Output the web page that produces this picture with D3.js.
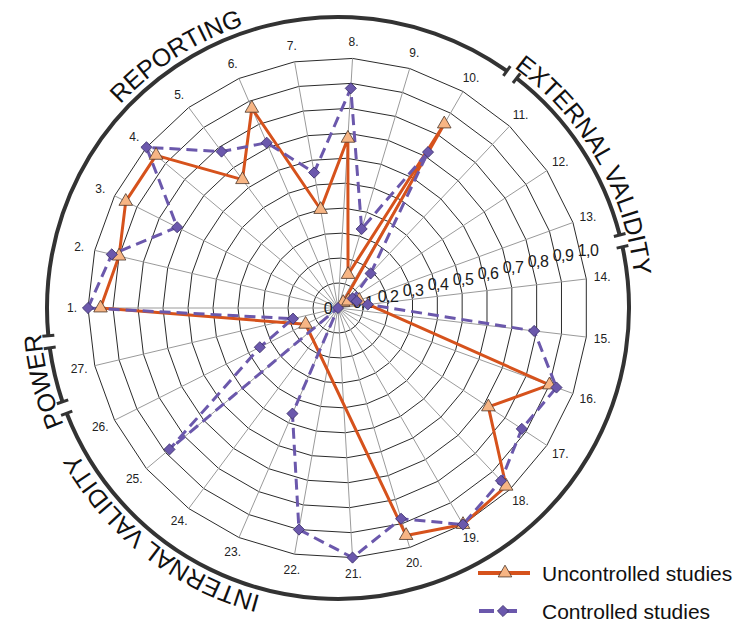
<!DOCTYPE html>
<html>
<head>
<meta charset="utf-8">
<script src="https://cdn.jsdelivr.net/npm/d3@7"></script>
<style>
  body { margin: 0; background: #fff; }
  svg { display: block; font-family: "Liberation Sans", Arial, sans-serif; }
</style>
</head>
<body>
<div id="chart"></div>
<script>
// Quality checklist scores: uncontrolled vs controlled studies (27 items)
const items = d3.range(1, 28).map(d => d + ".");
const uncontrolled = [0.95, 0.90, 0.95, 0.95, 0.64, 0.87, 0.40, 0.68, 0.14, 0.85,
                      0.03, 0.05, 0.09, null, null, 0.90, 0.72, 0.98, 1.00, 0.95,
                      null, null, null, null, null, 0.145, null];
const controlled = [1.00, 0.93, 0.72, 1.00, 0.78, 0.72, 0.55, 0.88, 0.33, 0.72,
                    0.19, 0.07, 0.08, 0.12, 0.79, 0.93, 0.88, 0.95, 1.00, 0.88,
                    1.00, 0.90, 0.46, 0.00, 0.88, 0.35, 0.185];
const ringTicks = d3.range(0, 11).map(d => d / 10);
const ringLabels = ["0", "0,1", "0,2", "0,3", "0,4", "0,5", "0,6", "0,7", "0,8", "0,9", "1,0"];

// sections of the checklist (item index ranges, 0-based)
const sectionNames = ["REPORTING", "EXTERNAL VALIDITY", "INTERNAL VALIDITY", "POWER"];
const sectionFirst = [0, 10, 13, 26];
const sectionLast = [9, 12, 25, 26];

const w = 745, h = 622;
const cx = 338, cy = 308;
const R = 250;          // radius of ring 1,0
const outerR = 291;     // section circle

const svg = d3.select("#chart").append("svg")
    .attr("width", w)
    .attr("height", h);

const r = d3.scaleLinear().domain([0, 1]).range([0, R]);
// angle 0 = pointing left, increasing clockwise
const ang = d3.scaleLinear().domain([0, items.length]).range([0, 2 * Math.PI]);
const pt = (rad, a) => [cx - rad * Math.cos(a), cy - rad * Math.sin(a)];

// grid rings (polygons)
const g = svg.append("g");
g.selectAll(".ring")
    .data(ringTicks.slice(1))
    .enter()
    .append("polygon")
    .attr("points", v => items.map((d, i) => pt(r(v), ang(i)).join(",")).join(" "))
    .attr("fill", "none")
    .attr("stroke", "#2b2b2b")
    .attr("stroke-width", 1);

// spokes
g.selectAll(".spoke")
    .data(items)
    .enter()
    .append("line")
    .attr("x1", cx).attr("y1", cy)
    .attr("x2", (d, i) => pt(r(1), ang(i))[0])
    .attr("y2", (d, i) => pt(r(1), ang(i))[1])
    .attr("stroke", "#9a9a9a")
    .attr("stroke-width", 1);

// item labels
g.selectAll(".item")
    .data(items)
    .enter()
    .append("text")
    .attr("x", (d, i) => pt(R + 16, ang(i))[0])
    .attr("y", (d, i) => pt(R + 16, ang(i))[1])
    .attr("text-anchor", "middle")
    .attr("dominant-baseline", "central")
    .style("font-size", "12px")
    .style("fill", "#222")
    .text(d => d);

// value labels along a slanted line to the right
g.selectAll(".val")
    .data(ringTicks)
    .enter()
    .append("text")
    .attr("x", v => cx + r(v) - (v === 0 ? 10 : 0))
    .attr("y", v => cy - 0.232 * r(v))
    .attr("text-anchor", "middle")
    .attr("dominant-baseline", "central")
    .style("font-size", "16px")
    .style("letter-spacing", "-0.6px")
    .style("fill", "#1a1a1a")
    .text((v, i) => ringLabels[i]);

// section circle with gaps and end ticks
const gap = 1.2 * Math.PI / 180;
const sec = svg.append("g");
sectionNames.forEach((name, k) => {
    const a0 = ang(sectionFirst[k] - 0.5) + gap;
    const a1 = ang(sectionLast[k] + 0.5) - gap;
    const p0 = pt(outerR, a0), p1 = pt(outerR, a1);
    const large = (a1 - a0) > Math.PI ? 1 : 0;
    sec.append("path")
        .attr("d", `M${p0}A${outerR},${outerR} 0 ${large} 1 ${p1}`)
        .attr("fill", "none")
        .attr("stroke", "#333")
        .attr("stroke-width", 4);
    [a0, a1].forEach(a => {
        const t0 = pt(outerR - 6, a), t1 = pt(outerR + 6, a);
        sec.append("line")
            .attr("x1", t0[0]).attr("y1", t0[1])
            .attr("x2", t1[0]).attr("y2", t1[1])
            .attr("stroke", "#333")
            .attr("stroke-width", 3);
    });
});

// section titles on the circle
const titleAt = [4.3, 11.25, 23.1, 25.95];
const textR = 298;
const defs = svg.append("defs");
sectionNames.forEach((name, k) => {
    const c = ang(titleAt[k]);
    const p0 = pt(textR, c - Math.PI / 2), p1 = pt(textR, c + Math.PI / 2);
    defs.append("path")
        .attr("id", "tp" + k)
        .attr("d", `M${p0}A${textR},${textR} 0 0 1 ${p1}`);
    sec.append("text")
        .style("font-size", "25px")
        .style("fill", "#111")
        .append("textPath")
        .attr("href", "#tp" + k)
        .attr("startOffset", "50%")
        .attr("text-anchor", "middle")
        .text(name);
});

// series
const orange = "#D6521C", purple = "#6B58AC";
const line = d3.line().curve(d3.curveLinearClosed);
const pts = vals => vals.map((v, i) => v == null ? null : pt(r(v), ang(i))).filter(p => p);

const data = svg.append("g");
data.append("path")
    .attr("d", line(pts(uncontrolled)))
    .attr("fill", "none")
    .attr("stroke", orange)
    .attr("stroke-width", 3)
    .attr("stroke-linejoin", "round");
data.append("path")
    .attr("d", line(pts(controlled)))
    .attr("fill", "none")
    .attr("stroke", purple)
    .attr("stroke-width", 3)
    .attr("stroke-dasharray", "11,6");

const tri = d3.symbol().type(d3.symbolTriangle).size(80);
const dia = d3.symbol().type(d3.symbolSquare).size(62);

data.selectAll(".tri")
    .data(pts(uncontrolled))
    .enter()
    .append("path")
    .attr("d", tri)
    .attr("transform", p => `translate(${p[0]},${p[1]})`)
    .attr("fill", "#F7B584")
    .attr("stroke", "#4a3528")
    .attr("stroke-width", 0.8);

data.selectAll(".dia")
    .data(pts(controlled))
    .enter()
    .append("path")
    .attr("d", dia)
    .attr("transform", p => `translate(${p[0]},${p[1]}) rotate(45)`)
    .attr("fill", purple)
    .attr("stroke", "#3b2f6b")
    .attr("stroke-width", 0.8);

// legend
const legend = svg.append("g");
const legendY = [573, 611];
legend.append("line")
    .attr("x1", 478).attr("x2", 530)
    .attr("y1", legendY[0]).attr("y2", legendY[0])
    .attr("stroke", orange).attr("stroke-width", 4);
legend.append("path")
    .attr("d", tri)
    .attr("transform", `translate(505,${legendY[0]})`)
    .attr("fill", "#F7B584").attr("stroke", "#4a3528").attr("stroke-width", 0.8);
legend.append("line")
    .attr("x1", 479).attr("x2", 521)
    .attr("y1", legendY[1]).attr("y2", legendY[1])
    .attr("stroke", purple).attr("stroke-width", 4)
    .attr("stroke-dasharray", "15,8");
legend.append("path")
    .attr("d", dia)
    .attr("transform", `translate(503,${legendY[1]}) rotate(45)`)
    .attr("fill", purple).attr("stroke", "#3b2f6b").attr("stroke-width", 0.8);
legend.selectAll(".lt")
    .data(["Uncontrolled studies", "Controlled studies"])
    .enter()
    .append("text")
    .attr("x", 542)
    .attr("y", (d, i) => legendY[i])
    .attr("dominant-baseline", "central")
    .style("font-size", "21px")
    .style("fill", "#111")
    .text(d => d);
</script>
</body>
</html>
